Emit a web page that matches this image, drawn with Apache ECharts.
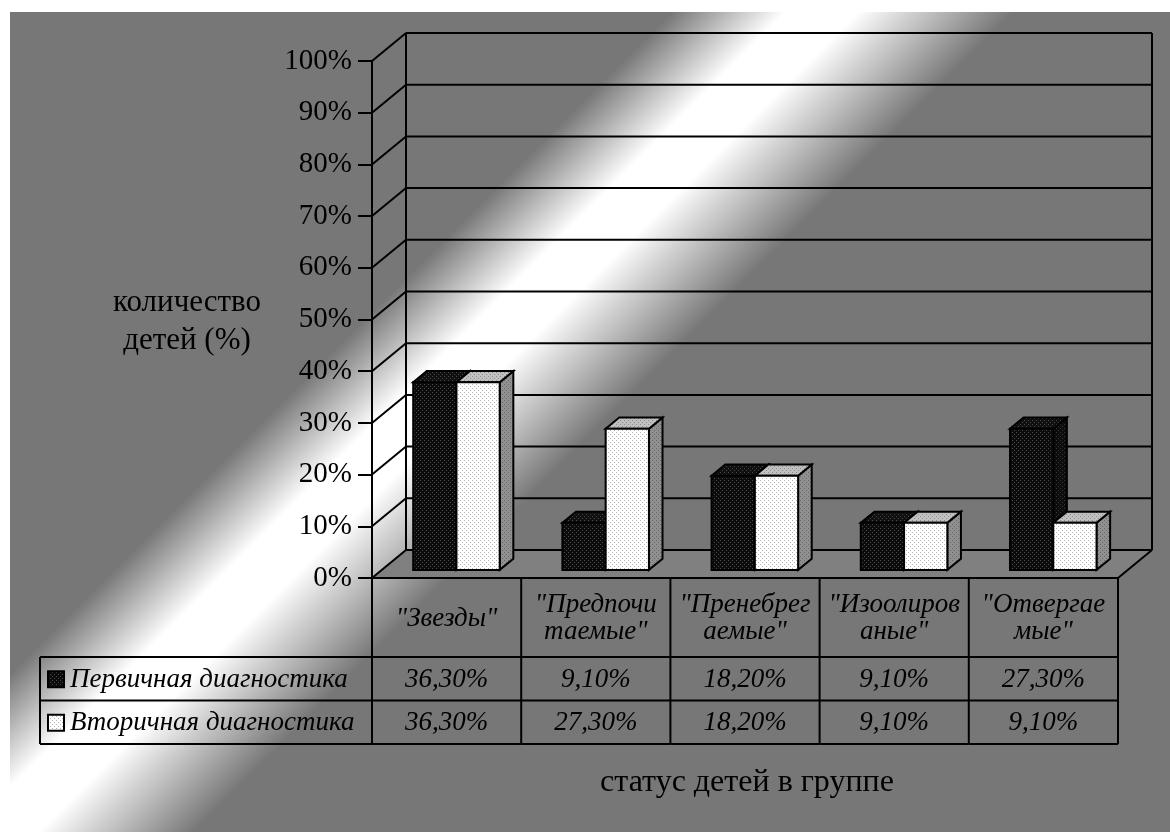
<!DOCTYPE html>
<html>
<head>
<meta charset="utf-8">
<script src="https://cdn.jsdelivr.net/npm/echarts@6/dist/echarts.min.js"></script>
<style>
  html, body { margin: 0; padding: 0; background: #fff; }
  #chart { width: 1170px; height: 832px; }
</style>
</head>
<body>
<div id="chart"></div>
<script>
// ---- data ----
const categories = ['"Звезды"', '"Предпочи\nтаемые"', '"Пренебрег\nаемые"', '"Изоолиров\nаные"', '"Отвергае\nмые"'];
const seriesNames = ['Первичная диагностика', 'Вторичная диагностика'];
const primaryValues = [36.3, 9.1, 18.2, 9.1, 27.3];
const secondaryValues = [36.3, 27.3, 18.2, 9.1, 9.1];
const yMin = 0, yMax = 100, yStep = 10;
const yAxisTitle = 'количество\nдетей (%)';
const xAxisTitle = 'статус детей в группе';

// ---- drawing constants ----
const SERIF = '"Liberation Serif", "Times New Roman", serif';
const DX = 34, DY = -28;          // depth offset of the back wall
const T0 = 0.29, T1 = 0.69;       // bar depth range (fraction of floor depth)
const BAR_FRAC = 0.29;            // bar width as a fraction of category width
const HEAD_H = 79, ROW_H = 43.5, LEGEND_X = 40;
const TABLE_FONT = 27;

// small dotted tiles used as fills for the column faces
function dots(base, dot) {
  const c = document.createElement('canvas');
  c.width = 4; c.height = 4;
  const g = c.getContext('2d');
  g.fillStyle = base; g.fillRect(0, 0, 4, 4);
  g.fillStyle = dot; g.fillRect(0, 0, 1, 1); g.fillRect(2, 2, 1, 1);
  return { image: c, repeat: 'repeat' };
}

const faces = [
  { front: dots('#0c0c0c', '#4a4a4a'), top: dots('#101010', '#4a4a4a'), side: dots('#0c0c0c', '#3a3a3a'), swatch: '#141414' },
  { front: dots('#ffffff', '#b0b0b0'), top: dots('#c0c0c0', '#8c8c8c'), side: dots('#909090', '#666666'), swatch: '#f2f2f2' }
];

function pct(v) { return v.toFixed(2).replace('.', ',') + '%'; }

const LINE = { stroke: '#000', lineWidth: 2 };

// back wall, left wall, floor and grid lines
function renderWalls(params, api) {
  const cs = params.coordSys;
  const left = cs.x, right = cs.x + cs.width, bottom = cs.y + cs.height, top = cs.y;
  const kids = [];
  kids.push({ type: 'polygon', shape: { points: [[left, bottom], [right, bottom], [right + DX, bottom + DY], [left + DX, bottom + DY]] },
    style: { fill: '#808080', stroke: null } });
  for (let v = yMin; v <= yMax; v += yStep) {
    const y = api.coord([0, v])[1];
    kids.push({ type: 'line', shape: { x1: left + DX, y1: y + DY, x2: right + DX, y2: y + DY }, style: LINE });
    kids.push({ type: 'line', shape: { x1: left, y1: y, x2: left + DX, y2: y + DY }, style: LINE });
  }
  kids.push({ type: 'line', shape: { x1: left + DX, y1: top + DY, x2: left + DX, y2: bottom + DY }, style: LINE });
  kids.push({ type: 'line', shape: { x1: right + DX, y1: top + DY, x2: right + DX, y2: bottom + DY }, style: LINE });
  kids.push({ type: 'line', shape: { x1: right, y1: bottom, x2: right + DX, y2: bottom + DY }, style: LINE });
  kids.push({ type: 'line', shape: { x1: left, y1: bottom, x2: right, y2: bottom }, style: LINE });
  return { type: 'group', children: kids };
}

// 3D column: front, top and right side faces
function barRenderer(idx) {
  const f = faces[idx];
  return function (params, api) {
    const cat = api.value(0), val = api.value(1);
    const base = api.coord([cat, 0]);
    const peak = api.coord([cat, val]);
    const cw = api.size([1, 0])[0];
    const bw = cw * BAR_FRAC;
    const ox = DX * T0, oy = DY * T0;
    const bx = DX * (T1 - T0), by = DY * (T1 - T0);
    const x0 = base[0] + ox + (idx === 0 ? -bw : 0);
    const x1 = x0 + bw;
    const yb = base[1] + oy, yt = peak[1] + oy;
    const st = (fill) => ({ fill: fill, stroke: '#000', lineWidth: 2, lineJoin: 'miter' });
    return { type: 'group', children: [
      { type: 'polygon', shape: { points: [[x1, yb], [x1, yt], [x1 + bx, yt + by], [x1 + bx, yb + by]] }, style: st(f.side) },
      { type: 'polygon', shape: { points: [[x0, yt], [x1, yt], [x1 + bx, yt + by], [x0 + bx, yt + by]] }, style: st(f.top) },
      { type: 'rect', shape: { x: x0, y: yt, width: bw, height: yb - yt }, style: st(f.front) }
    ] };
  };
}

// data table under the plot, one column per category
function renderTable(params, api) {
  const cs = params.coordSys;
  const i = api.value(0);
  const cx = api.coord([i, 0])[0];
  const cw = api.size([1, 0])[0];
  const xl = cx - cw / 2, xr = cx + cw / 2;
  const y0 = cs.y + cs.height, y1 = y0 + HEAD_H, y2 = y1 + ROW_H, y3 = y2 + ROW_H;
  const txt = (t, x, y, align) => ({ type: 'text', style: {
    text: t, x: x, y: y, align: align || 'center', verticalAlign: 'middle',
    fontFamily: SERIF, fontSize: TABLE_FONT, fontStyle: 'italic', fill: '#000', lineHeight: 27 } });
  const kids = [
    { type: 'line', shape: { x1: xl, y1: y0, x2: xl, y2: y3 }, style: LINE },
    { type: 'line', shape: { x1: xl, y1: y1, x2: xr, y2: y1 }, style: LINE },
    { type: 'line', shape: { x1: xl, y1: y2, x2: xr, y2: y2 }, style: LINE },
    { type: 'line', shape: { x1: xl, y1: y3, x2: xr, y2: y3 }, style: LINE },
    txt(categories[i], cx, (y0 + y1) / 2 + 1),
    txt(pct(primaryValues[i]), cx, (y1 + y2) / 2 + 1),
    txt(pct(secondaryValues[i]), cx, (y2 + y3) / 2 + 1)
  ];
  if (i === categories.length - 1) {
    kids.push({ type: 'line', shape: { x1: xr, y1: y0, x2: xr, y2: y3 }, style: LINE });
  }
  if (i === 0) {
    kids.push({ type: 'line', shape: { x1: LEGEND_X, y1: y1, x2: xl, y2: y1 }, style: LINE });
    kids.push({ type: 'line', shape: { x1: LEGEND_X, y1: y2, x2: xl, y2: y2 }, style: LINE });
    kids.push({ type: 'line', shape: { x1: LEGEND_X, y1: y3, x2: xl, y2: y3 }, style: LINE });
    kids.push({ type: 'line', shape: { x1: LEGEND_X, y1: y1, x2: LEGEND_X, y2: y3 }, style: LINE });
    [(y1 + y2) / 2, (y2 + y3) / 2].forEach((yc, k) => {
      kids.push({ type: 'rect', shape: { x: LEGEND_X + 8, y: yc - 7.5, width: 16, height: 16 },
        style: { fill: faces[k].front, stroke: '#000', lineWidth: 2 } });
      kids.push(txt(seriesNames[k], LEGEND_X + 30, yc + 1, 'left'));
    });
  }
  return { type: 'group', children: kids };
}

const chart = echarts.init(document.getElementById('chart'), null, { renderer: 'canvas' });
chart.setOption({
  animation: false,
  backgroundColor: '#fff',
  graphic: [
    {
      type: 'rect', z: -100, silent: true,
      shape: { x: 10, y: 12, width: 1160, height: 820 },
      style: { fill: { type: 'linear', x: 0, y: 0, x2: 600, y2: 600, global: true, colorStops: [
        { offset: 0, color: '#777' },
        { offset: 0.57, color: '#777' },
        { offset: 0.665, color: '#fff' },
        { offset: 0.725, color: '#fff' },
        { offset: 0.855, color: '#777' },
        { offset: 1, color: '#777' }
      ] } }
    },
    {
      type: 'text', silent: true, z: 10, x: 187, y: 322,
      style: { text: yAxisTitle, x: 0, y: 0, align: 'center', verticalAlign: 'middle',
        fontFamily: SERIF, fontSize: 31, lineHeight: 38, fill: '#000' }
    },
    {
      type: 'text', silent: true, z: 10, x: 747, y: 783,
      style: { text: xAxisTitle, x: 0, y: 0, align: 'center', verticalAlign: 'middle',
        fontFamily: SERIF, fontSize: 32, fill: '#000' }
    }
  ],
  grid: { left: 372, top: 61, width: 746, height: 517, containLabel: false },
  xAxis: {
    type: 'category', data: categories,
    axisLine: { show: false }, axisTick: { show: false }, axisLabel: { show: false }, splitLine: { show: false }
  },
  yAxis: {
    type: 'value', min: yMin, max: yMax, interval: yStep,
    axisLine: { show: true, lineStyle: { color: '#000', width: 2 } },
    axisTick: { show: true, inside: false, length: 14, lineStyle: { color: '#000', width: 2 } },
    axisLabel: { formatter: '{value}%', color: '#000', fontFamily: SERIF, fontSize: 29, margin: 20 },
    splitLine: { show: false }
  },
  series: [
    { type: 'custom', name: 'walls', z: 1, silent: true, clip: false, renderItem: renderWalls, data: [[0, 0]] },
    { type: 'custom', name: seriesNames[0], z: 3, clip: false, renderItem: barRenderer(0),
      data: primaryValues.map((v, i) => [i, v]) },
    { type: 'custom', name: seriesNames[1], z: 3, clip: false, renderItem: barRenderer(1),
      data: secondaryValues.map((v, i) => [i, v]) },
    { type: 'custom', name: 'table', z: 4, silent: true, clip: false, renderItem: renderTable,
      data: categories.map((c, i) => [i, 0]) }
  ]
});
</script>
</body>
</html>
